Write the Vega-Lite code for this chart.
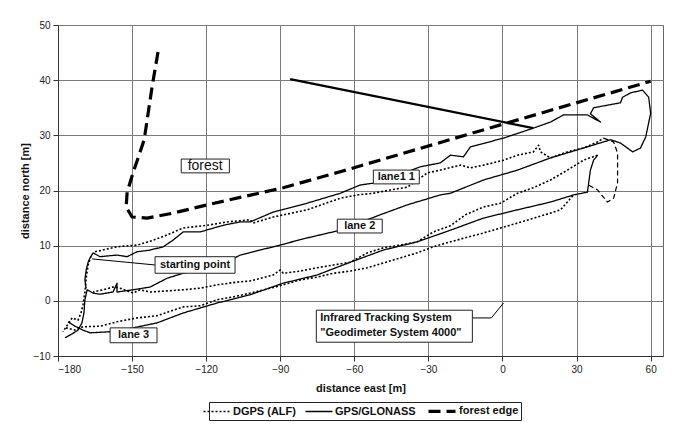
{
  "$schema": "https://vega.github.io/schema/vega-lite/v6.json",
  "description": "DGPS and GPS/GLONASS tracks on three lanes next to a forest edge",
  "width": 605,
  "height": 331,
  "autosize": "none",
  "padding": {"left": 58, "top": 25, "right": 16, "bottom": 69},
  "config": {
    "font": "Liberation Sans",
    "view": {"stroke": "#666", "strokeWidth": 1},
    "axis": {
      "gridColor": "#7a7a7a", "gridOpacity": 1, "gridWidth": 1,
      "domainColor": "#333", "tickColor": "#333", "tickSize": 5,
      "labelFont": "Liberation Sans", "labelFontSize": 10, "labelColor": "#222",
      "titleFont": "Liberation Sans", "titleFontSize": 11, "titleFontWeight": "bold", "titleColor": "#111"
    },
    "legend": {
      "orient": "none", "legendX": 151, "legendY": 377, "direction": "horizontal",
      "strokeColor": "#222", "padding": 2, "symbolType": "M-2.7,0H2.7", "symbolSize": 100,
      "symbolStrokeColor": "black", "labelFont": "Liberation Sans", "labelFontSize": 11,
      "labelFontWeight": "bold", "labelColor": "#111", "labelOffset": 10, "columnPadding": 6
    }
  },
  "datasets": {
    "tracks": [
      {"series": "forest edge", "seg": "f", "i": 1, "x": -139.5, "y": 45.1},
      {"series": "forest edge", "seg": "f", "i": 2, "x": -141.9, "y": 38.8},
      {"series": "forest edge", "seg": "f", "i": 3, "x": -145.1, "y": 29.2},
      {"series": "forest edge", "seg": "f", "i": 4, "x": -149.6, "y": 23.2},
      {"series": "forest edge", "seg": "f", "i": 5, "x": -152.0, "y": 19.7},
      {"series": "forest edge", "seg": "f", "i": 6, "x": -152.4, "y": 17.0},
      {"series": "forest edge", "seg": "f", "i": 7, "x": -150.0, "y": 15.2},
      {"series": "forest edge", "seg": "f", "i": 8, "x": -143.9, "y": 15.0},
      {"series": "forest edge", "seg": "f", "i": 9, "x": -133.4, "y": 15.9},
      {"series": "forest edge", "seg": "f", "i": 10, "x": -119.6, "y": 17.4},
      {"series": "forest edge", "seg": "f", "i": 11, "x": -88.8, "y": 20.5},
      {"series": "forest edge", "seg": "f", "i": 12, "x": -65.7, "y": 23.4},
      {"series": "forest edge", "seg": "f", "i": 13, "x": 0, "y": 32.0},
      {"series": "forest edge", "seg": "f", "i": 14, "x": 60, "y": 39.8},

      {"series": "GPS/GLONASS", "seg": "g0", "i": 1, "x": -165.8, "y": 8.7},
      {"series": "GPS/GLONASS", "seg": "g0", "i": 2, "x": -167.0, "y": 7.8},
      {"series": "GPS/GLONASS", "seg": "g0", "i": 3, "x": -167.8, "y": 7.0},
      {"series": "GPS/GLONASS", "seg": "g0", "i": 4, "x": -168.6, "y": 5.6},
      {"series": "GPS/GLONASS", "seg": "g0", "i": 5, "x": -169.1, "y": 3.8},
      {"series": "GPS/GLONASS", "seg": "g0", "i": 6, "x": -168.6, "y": 2.2},

      {"series": "GPS/GLONASS", "seg": "g1", "i": 1, "x": -165.8, "y": 8.7},
      {"series": "GPS/GLONASS", "seg": "g1", "i": 2, "x": -163.0, "y": 8.0},
      {"series": "GPS/GLONASS", "seg": "g1", "i": 3, "x": -156.1, "y": 8.3},
      {"series": "GPS/GLONASS", "seg": "g1", "i": 4, "x": -152.0, "y": 8.0},
      {"series": "GPS/GLONASS", "seg": "g1", "i": 5, "x": -148.0, "y": 8.9},
      {"series": "GPS/GLONASS", "seg": "g1", "i": 6, "x": -142.7, "y": 9.2},
      {"series": "GPS/GLONASS", "seg": "g1", "i": 7, "x": -137.4, "y": 9.8},
      {"series": "GPS/GLONASS", "seg": "g1", "i": 8, "x": -133.4, "y": 11.0},
      {"series": "GPS/GLONASS", "seg": "g1", "i": 9, "x": -129.3, "y": 12.5},
      {"series": "GPS/GLONASS", "seg": "g1", "i": 10, "x": -122.4, "y": 12.5},
      {"series": "GPS/GLONASS", "seg": "g1", "i": 11, "x": -113.1, "y": 13.7},
      {"series": "GPS/GLONASS", "seg": "g1", "i": 12, "x": -106.2, "y": 14.3},
      {"series": "GPS/GLONASS", "seg": "g1", "i": 13, "x": -102.2, "y": 14.3},
      {"series": "GPS/GLONASS", "seg": "g1", "i": 14, "x": -92.8, "y": 16.1},
      {"series": "GPS/GLONASS", "seg": "g1", "i": 15, "x": -79.1, "y": 17.7},
      {"series": "GPS/GLONASS", "seg": "g1", "i": 16, "x": -65.7, "y": 19.5},
      {"series": "GPS/GLONASS", "seg": "g1", "i": 17, "x": -57.6, "y": 21.0},
      {"series": "GPS/GLONASS", "seg": "g1", "i": 18, "x": -49.5, "y": 21.5},
      {"series": "GPS/GLONASS", "seg": "g1", "i": 19, "x": -33.3, "y": 24.3},
      {"series": "GPS/GLONASS", "seg": "g1", "i": 20, "x": -25.2, "y": 25.0},
      {"series": "GPS/GLONASS", "seg": "g1", "i": 21, "x": -21.1, "y": 26.4},
      {"series": "GPS/GLONASS", "seg": "g1", "i": 22, "x": -15.8, "y": 26.1},
      {"series": "GPS/GLONASS", "seg": "g1", "i": 23, "x": -13.0, "y": 27.9},
      {"series": "GPS/GLONASS", "seg": "g1", "i": 24, "x": 0.4, "y": 29.5},
      {"series": "GPS/GLONASS", "seg": "g1", "i": 25, "x": 12.5, "y": 31.3},
      {"series": "GPS/GLONASS", "seg": "g1", "i": 26, "x": 19.4, "y": 32.4},
      {"series": "GPS/GLONASS", "seg": "g1", "i": 27, "x": 24.7, "y": 33.7},
      {"series": "GPS/GLONASS", "seg": "g1", "i": 28, "x": 34.4, "y": 33.7},
      {"series": "GPS/GLONASS", "seg": "g1", "i": 29, "x": 39.7, "y": 32.4},
      {"series": "GPS/GLONASS", "seg": "g1", "i": 30, "x": 35.6, "y": 33.9},
      {"series": "GPS/GLONASS", "seg": "g1", "i": 31, "x": 36.9, "y": 35.0},
      {"series": "GPS/GLONASS", "seg": "g1", "i": 32, "x": 47.8, "y": 35.9},
      {"series": "GPS/GLONASS", "seg": "g1", "i": 33, "x": 48.6, "y": 36.9},
      {"series": "GPS/GLONASS", "seg": "g1", "i": 34, "x": 51.9, "y": 37.7},
      {"series": "GPS/GLONASS", "seg": "g1", "i": 35, "x": 56.7, "y": 38.2},
      {"series": "GPS/GLONASS", "seg": "g1", "i": 36, "x": 59.2, "y": 36.9},
      {"series": "GPS/GLONASS", "seg": "g1", "i": 37, "x": 60.0, "y": 34.0},
      {"series": "GPS/GLONASS", "seg": "g1", "i": 38, "x": 58.0, "y": 29.7},
      {"series": "GPS/GLONASS", "seg": "g1", "i": 39, "x": 55.9, "y": 27.7},
      {"series": "GPS/GLONASS", "seg": "g1", "i": 40, "x": 52.7, "y": 27.0},
      {"series": "GPS/GLONASS", "seg": "g1", "i": 41, "x": 47.8, "y": 28.6},
      {"series": "GPS/GLONASS", "seg": "g1", "i": 42, "x": 43.8, "y": 29.2},
      {"series": "GPS/GLONASS", "seg": "g1", "i": 43, "x": 32.8, "y": 27.7},
      {"series": "GPS/GLONASS", "seg": "g1", "i": 44, "x": 19.4, "y": 25.9},
      {"series": "GPS/GLONASS", "seg": "g1", "i": 45, "x": 6.1, "y": 23.7},
      {"series": "GPS/GLONASS", "seg": "g1", "i": 46, "x": -7.7, "y": 21.9},
      {"series": "GPS/GLONASS", "seg": "g1", "i": 47, "x": -21.1, "y": 19.5},
      {"series": "GPS/GLONASS", "seg": "g1", "i": 48, "x": -25.2, "y": 19.2},
      {"series": "GPS/GLONASS", "seg": "g1", "i": 49, "x": -38.5, "y": 17.4},
      {"series": "GPS/GLONASS", "seg": "g1", "i": 50, "x": -49.5, "y": 15.6},
      {"series": "GPS/GLONASS", "seg": "g1", "i": 51, "x": -65.7, "y": 12.8},
      {"series": "GPS/GLONASS", "seg": "g1", "i": 52, "x": -79.1, "y": 11.4},
      {"series": "GPS/GLONASS", "seg": "g1", "i": 53, "x": -92.8, "y": 9.8},
      {"series": "GPS/GLONASS", "seg": "g1", "i": 54, "x": -106.2, "y": 8.3},
      {"series": "GPS/GLONASS", "seg": "g1", "i": 55, "x": -115.6, "y": 6.1},
      {"series": "GPS/GLONASS", "seg": "g1", "i": 56, "x": -129.3, "y": 5.0},
      {"series": "GPS/GLONASS", "seg": "g1", "i": 57, "x": -135.8, "y": 4.1},
      {"series": "GPS/GLONASS", "seg": "g1", "i": 58, "x": -142.7, "y": 2.5},
      {"series": "GPS/GLONASS", "seg": "g1", "i": 59, "x": -149.6, "y": 2.0},
      {"series": "GPS/GLONASS", "seg": "g1", "i": 60, "x": -156.1, "y": 1.6},
      {"series": "GPS/GLONASS", "seg": "g1", "i": 61, "x": -156.1, "y": 3.2},
      {"series": "GPS/GLONASS", "seg": "g1", "i": 62, "x": -157.7, "y": 1.6},
      {"series": "GPS/GLONASS", "seg": "g1", "i": 63, "x": -163.0, "y": 1.2},
      {"series": "GPS/GLONASS", "seg": "g1", "i": 64, "x": -165.8, "y": 1.4},
      {"series": "GPS/GLONASS", "seg": "g1", "i": 65, "x": -168.2, "y": 2.0},
      {"series": "GPS/GLONASS", "seg": "g1", "i": 66, "x": -169.1, "y": 0.2},
      {"series": "GPS/GLONASS", "seg": "g1", "i": 67, "x": -169.5, "y": -2.2},
      {"series": "GPS/GLONASS", "seg": "g1", "i": 68, "x": -170.3, "y": -4.0},
      {"series": "GPS/GLONASS", "seg": "g1", "i": 69, "x": -171.9, "y": -5.3},
      {"series": "GPS/GLONASS", "seg": "g1", "i": 70, "x": -174.3, "y": -6.0},
      {"series": "GPS/GLONASS", "seg": "g1", "i": 71, "x": -177.2, "y": -6.7},

      {"series": "GPS/GLONASS", "seg": "g3", "i": 1, "x": -175.9, "y": -3.8},
      {"series": "GPS/GLONASS", "seg": "g3", "i": 2, "x": -173.1, "y": -4.6},
      {"series": "GPS/GLONASS", "seg": "g3", "i": 3, "x": -169.9, "y": -5.3},
      {"series": "GPS/GLONASS", "seg": "g3", "i": 4, "x": -167.0, "y": -5.8},
      {"series": "GPS/GLONASS", "seg": "g3", "i": 5, "x": -158.9, "y": -5.6},
      {"series": "GPS/GLONASS", "seg": "g3", "i": 6, "x": -149.6, "y": -4.9},
      {"series": "GPS/GLONASS", "seg": "g3", "i": 7, "x": -139.9, "y": -4.0},
      {"series": "GPS/GLONASS", "seg": "g3", "i": 8, "x": -129.3, "y": -2.2},
      {"series": "GPS/GLONASS", "seg": "g3", "i": 9, "x": -115.6, "y": -0.4},
      {"series": "GPS/GLONASS", "seg": "g3", "i": 10, "x": -102.2, "y": 1.1},
      {"series": "GPS/GLONASS", "seg": "g3", "i": 11, "x": -88.8, "y": 3.2},
      {"series": "GPS/GLONASS", "seg": "g3", "i": 12, "x": -75.0, "y": 4.7},
      {"series": "GPS/GLONASS", "seg": "g3", "i": 13, "x": -61.6, "y": 7.0},
      {"series": "GPS/GLONASS", "seg": "g3", "i": 14, "x": -48.3, "y": 9.2},
      {"series": "GPS/GLONASS", "seg": "g3", "i": 15, "x": -34.5, "y": 10.7},
      {"series": "GPS/GLONASS", "seg": "g3", "i": 16, "x": -21.1, "y": 12.8},
      {"series": "GPS/GLONASS", "seg": "g3", "i": 17, "x": -7.7, "y": 15.0},
      {"series": "GPS/GLONASS", "seg": "g3", "i": 18, "x": 6.1, "y": 16.5},
      {"series": "GPS/GLONASS", "seg": "g3", "i": 19, "x": 19.4, "y": 17.9},
      {"series": "GPS/GLONASS", "seg": "g3", "i": 20, "x": 28.8, "y": 19.2},
      {"series": "GPS/GLONASS", "seg": "g3", "i": 21, "x": 34.4, "y": 19.7},
      {"series": "GPS/GLONASS", "seg": "g3", "i": 22, "x": 34.8, "y": 21.0},
      {"series": "GPS/GLONASS", "seg": "g3", "i": 23, "x": 35.6, "y": 23.7},
      {"series": "GPS/GLONASS", "seg": "g3", "i": 24, "x": 36.9, "y": 25.5},
      {"series": "GPS/GLONASS", "seg": "g3", "i": 25, "x": 38.5, "y": 26.4},

      {"series": "DGPS (ALF)", "seg": "d1", "i": 1, "x": -165.0, "y": 8.9},
      {"series": "DGPS (ALF)", "seg": "d1", "i": 2, "x": -156.1, "y": 9.8},
      {"series": "DGPS (ALF)", "seg": "d1", "i": 3, "x": -148.0, "y": 10.1},
      {"series": "DGPS (ALF)", "seg": "d1", "i": 4, "x": -142.7, "y": 10.8},
      {"series": "DGPS (ALF)", "seg": "d1", "i": 5, "x": -136.6, "y": 11.8},
      {"series": "DGPS (ALF)", "seg": "d1", "i": 6, "x": -129.3, "y": 13.2},
      {"series": "DGPS (ALF)", "seg": "d1", "i": 7, "x": -119.6, "y": 13.7},
      {"series": "DGPS (ALF)", "seg": "d1", "i": 8, "x": -111.5, "y": 14.3},
      {"series": "DGPS (ALF)", "seg": "d1", "i": 9, "x": -102.2, "y": 14.7},
      {"series": "DGPS (ALF)", "seg": "d1", "i": 10, "x": -101.0, "y": 14.1},
      {"series": "DGPS (ALF)", "seg": "d1", "i": 11, "x": -92.8, "y": 15.2},
      {"series": "DGPS (ALF)", "seg": "d1", "i": 12, "x": -79.1, "y": 16.5},
      {"series": "DGPS (ALF)", "seg": "d1", "i": 13, "x": -65.7, "y": 18.6},
      {"series": "DGPS (ALF)", "seg": "d1", "i": 14, "x": -58.8, "y": 19.2},
      {"series": "DGPS (ALF)", "seg": "d1", "i": 15, "x": -52.3, "y": 19.5},
      {"series": "DGPS (ALF)", "seg": "d1", "i": 16, "x": -45.4, "y": 20.1},
      {"series": "DGPS (ALF)", "seg": "d1", "i": 17, "x": -38.5, "y": 20.6},
      {"series": "DGPS (ALF)", "seg": "d1", "i": 18, "x": -30.4, "y": 23.2},
      {"series": "DGPS (ALF)", "seg": "d1", "i": 19, "x": -25.2, "y": 23.7},
      {"series": "DGPS (ALF)", "seg": "d1", "i": 20, "x": -17.0, "y": 24.6},
      {"series": "DGPS (ALF)", "seg": "d1", "i": 21, "x": -13.0, "y": 24.1},
      {"series": "DGPS (ALF)", "seg": "d1", "i": 22, "x": -7.7, "y": 24.6},
      {"series": "DGPS (ALF)", "seg": "d1", "i": 23, "x": 0.4, "y": 25.5},
      {"series": "DGPS (ALF)", "seg": "d1", "i": 24, "x": 6.1, "y": 26.4},
      {"series": "DGPS (ALF)", "seg": "d1", "i": 25, "x": 12.5, "y": 27.0},
      {"series": "DGPS (ALF)", "seg": "d1", "i": 26, "x": 14.6, "y": 28.2},
      {"series": "DGPS (ALF)", "seg": "d1", "i": 27, "x": 15.4, "y": 27.0},
      {"series": "DGPS (ALF)", "seg": "d1", "i": 28, "x": 19.4, "y": 25.9},
      {"series": "DGPS (ALF)", "seg": "d1", "i": 29, "x": 26.3, "y": 27.0},
      {"series": "DGPS (ALF)", "seg": "d1", "i": 30, "x": 32.8, "y": 27.7},
      {"series": "DGPS (ALF)", "seg": "d1", "i": 31, "x": 38.5, "y": 28.8},
      {"series": "DGPS (ALF)", "seg": "d1", "i": 32, "x": 40.9, "y": 29.5},

      {"series": "DGPS (ALF)", "seg": "d2", "i": 1, "x": 38.5, "y": 26.4},
      {"series": "DGPS (ALF)", "seg": "d2", "i": 2, "x": 32.8, "y": 25.5},
      {"series": "DGPS (ALF)", "seg": "d2", "i": 3, "x": 26.3, "y": 23.7},
      {"series": "DGPS (ALF)", "seg": "d2", "i": 4, "x": 19.4, "y": 21.9},
      {"series": "DGPS (ALF)", "seg": "d2", "i": 5, "x": 12.5, "y": 20.5},
      {"series": "DGPS (ALF)", "seg": "d2", "i": 6, "x": 6.1, "y": 19.5},
      {"series": "DGPS (ALF)", "seg": "d2", "i": 7, "x": -0.8, "y": 17.7},
      {"series": "DGPS (ALF)", "seg": "d2", "i": 8, "x": -7.7, "y": 17.0},
      {"series": "DGPS (ALF)", "seg": "d2", "i": 9, "x": -15.0, "y": 15.6},
      {"series": "DGPS (ALF)", "seg": "d2", "i": 10, "x": -21.1, "y": 13.6},
      {"series": "DGPS (ALF)", "seg": "d2", "i": 11, "x": -28.0, "y": 12.5},
      {"series": "DGPS (ALF)", "seg": "d2", "i": 12, "x": -34.5, "y": 10.7},
      {"series": "DGPS (ALF)", "seg": "d2", "i": 13, "x": -41.4, "y": 10.1},
      {"series": "DGPS (ALF)", "seg": "d2", "i": 14, "x": -48.3, "y": 9.6},
      {"series": "DGPS (ALF)", "seg": "d2", "i": 15, "x": -54.7, "y": 8.7},
      {"series": "DGPS (ALF)", "seg": "d2", "i": 16, "x": -61.6, "y": 7.0},
      {"series": "DGPS (ALF)", "seg": "d2", "i": 17, "x": -68.5, "y": 6.5},
      {"series": "DGPS (ALF)", "seg": "d2", "i": 18, "x": -75.0, "y": 6.0},
      {"series": "DGPS (ALF)", "seg": "d2", "i": 19, "x": -81.9, "y": 5.4},
      {"series": "DGPS (ALF)", "seg": "d2", "i": 20, "x": -88.8, "y": 5.0},
      {"series": "DGPS (ALF)", "seg": "d2", "i": 21, "x": -90.0, "y": 5.6},
      {"series": "DGPS (ALF)", "seg": "d2", "i": 22, "x": -92.8, "y": 4.7},
      {"series": "DGPS (ALF)", "seg": "d2", "i": 23, "x": -102.2, "y": 3.6},
      {"series": "DGPS (ALF)", "seg": "d2", "i": 24, "x": -107.4, "y": 3.4},
      {"series": "DGPS (ALF)", "seg": "d2", "i": 25, "x": -115.6, "y": 2.9},
      {"series": "DGPS (ALF)", "seg": "d2", "i": 26, "x": -122.4, "y": 2.3},
      {"series": "DGPS (ALF)", "seg": "d2", "i": 27, "x": -129.3, "y": 2.0},
      {"series": "DGPS (ALF)", "seg": "d2", "i": 28, "x": -135.8, "y": 1.8},
      {"series": "DGPS (ALF)", "seg": "d2", "i": 29, "x": -142.7, "y": 1.6},
      {"series": "DGPS (ALF)", "seg": "d2", "i": 30, "x": -146.8, "y": 2.0},
      {"series": "DGPS (ALF)", "seg": "d2", "i": 31, "x": -149.6, "y": 1.4},
      {"series": "DGPS (ALF)", "seg": "d2", "i": 32, "x": -154.9, "y": 2.3},
      {"series": "DGPS (ALF)", "seg": "d2", "i": 33, "x": -157.7, "y": 2.5},
      {"series": "DGPS (ALF)", "seg": "d2", "i": 34, "x": -161.8, "y": 2.0},
      {"series": "DGPS (ALF)", "seg": "d2", "i": 35, "x": -165.8, "y": 1.6},

      {"series": "DGPS (ALF)", "seg": "d3", "i": 1, "x": -166.6, "y": 8.1},
      {"series": "DGPS (ALF)", "seg": "d3", "i": 2, "x": -167.8, "y": 6.5},
      {"series": "DGPS (ALF)", "seg": "d3", "i": 3, "x": -168.6, "y": 4.1},
      {"series": "DGPS (ALF)", "seg": "d3", "i": 4, "x": -169.1, "y": 1.6},
      {"series": "DGPS (ALF)", "seg": "d3", "i": 5, "x": -169.9, "y": -0.8},
      {"series": "DGPS (ALF)", "seg": "d3", "i": 6, "x": -170.7, "y": -2.2},
      {"series": "DGPS (ALF)", "seg": "d3", "i": 7, "x": -171.9, "y": -3.5},
      {"series": "DGPS (ALF)", "seg": "d3", "i": 8, "x": -174.3, "y": -3.1},
      {"series": "DGPS (ALF)", "seg": "d3", "i": 9, "x": -175.9, "y": -4.2},
      {"series": "DGPS (ALF)", "seg": "d3", "i": 10, "x": -178.0, "y": -5.6},

      {"series": "DGPS (ALF)", "seg": "d4", "i": 1, "x": -176.8, "y": -4.9},
      {"series": "DGPS (ALF)", "seg": "d4", "i": 2, "x": -173.1, "y": -5.3},
      {"series": "DGPS (ALF)", "seg": "d4", "i": 3, "x": -169.9, "y": -4.7},
      {"series": "DGPS (ALF)", "seg": "d4", "i": 4, "x": -163.0, "y": -4.6},
      {"series": "DGPS (ALF)", "seg": "d4", "i": 5, "x": -156.1, "y": -3.8},
      {"series": "DGPS (ALF)", "seg": "d4", "i": 6, "x": -148.0, "y": -3.1},
      {"series": "DGPS (ALF)", "seg": "d4", "i": 7, "x": -139.9, "y": -2.7},
      {"series": "DGPS (ALF)", "seg": "d4", "i": 8, "x": -129.3, "y": -1.1},
      {"series": "DGPS (ALF)", "seg": "d4", "i": 9, "x": -122.4, "y": -0.9},
      {"series": "DGPS (ALF)", "seg": "d4", "i": 10, "x": -115.6, "y": 0.2},
      {"series": "DGPS (ALF)", "seg": "d4", "i": 11, "x": -109.1, "y": 0.7},
      {"series": "DGPS (ALF)", "seg": "d4", "i": 12, "x": -102.2, "y": 1.4},
      {"series": "DGPS (ALF)", "seg": "d4", "i": 13, "x": -92.0, "y": 2.5},
      {"series": "DGPS (ALF)", "seg": "d4", "i": 14, "x": -81.9, "y": 3.8},
      {"series": "DGPS (ALF)", "seg": "d4", "i": 15, "x": -75.0, "y": 4.3},
      {"series": "DGPS (ALF)", "seg": "d4", "i": 16, "x": -68.5, "y": 5.0},
      {"series": "DGPS (ALF)", "seg": "d4", "i": 17, "x": -61.6, "y": 5.4},
      {"series": "DGPS (ALF)", "seg": "d4", "i": 18, "x": -54.7, "y": 6.0},
      {"series": "DGPS (ALF)", "seg": "d4", "i": 19, "x": -44.2, "y": 7.4},
      {"series": "DGPS (ALF)", "seg": "d4", "i": 20, "x": -34.5, "y": 8.7},
      {"series": "DGPS (ALF)", "seg": "d4", "i": 21, "x": -28.0, "y": 9.8},
      {"series": "DGPS (ALF)", "seg": "d4", "i": 22, "x": -21.1, "y": 10.7},
      {"series": "DGPS (ALF)", "seg": "d4", "i": 23, "x": -7.7, "y": 12.3},
      {"series": "DGPS (ALF)", "seg": "d4", "i": 24, "x": 6.1, "y": 14.1},
      {"series": "DGPS (ALF)", "seg": "d4", "i": 25, "x": 19.4, "y": 15.9},
      {"series": "DGPS (ALF)", "seg": "d4", "i": 26, "x": 23.5, "y": 16.5},
      {"series": "DGPS (ALF)", "seg": "d4", "i": 27, "x": 28.8, "y": 19.2}
    ],
    "jump": [
      {"i": 1, "x": -86.0, "y": 40.2},
      {"i": 2, "x": 12.5, "y": 31.3}
    ],
    "turn": [
      {"i": 1, "x": 40.9, "y": 29.5},
      {"i": 2, "x": 45.0, "y": 28.8},
      {"i": 3, "x": 46.6, "y": 26.8},
      {"i": 4, "x": 46.6, "y": 21.4},
      {"i": 5, "x": 45.0, "y": 18.6},
      {"i": 6, "x": 42.5, "y": 17.9},
      {"i": 7, "x": 38.5, "y": 20.1},
      {"i": 8, "x": 34.8, "y": 21.0}
    ],
    "pointers": [
      {"seg": "start", "i": 1, "x": -166.2, "y": 7.6},
      {"seg": "start", "i": 2, "x": -140.7, "y": 6.5},
      {"seg": "ir", "i": 1, "x": -12.2, "y": -3.1},
      {"seg": "ir", "i": 2, "x": -4.5, "y": -3.1},
      {"seg": "ir", "i": 3, "x": 0.4, "y": -0.4}
    ],
    "boxes": [
      {"name": "forest", "x": -130.1, "x2": -110.6, "y": 25.7, "y2": 23.2},
      {"name": "lane1 1", "x": -52.3, "x2": -33.7, "y": 23.7, "y2": 21.2},
      {"name": "lane 2", "x": -66.9, "x2": -48.7, "y": 14.8, "y2": 12.3},
      {"name": "starting point", "x": -140.7, "x2": -108.3, "y": 8.0, "y2": 5.0},
      {"name": "lane 3", "x": -158.9, "x2": -139.9, "y": -4.9, "y2": -7.6},
      {"name": "infrared", "x": -75.4, "x2": -12.2, "y": -1.7, "y2": -7.5}
    ],
    "labels": [
      {"label": "lane1 1", "x": -43.0, "y": 22.45},
      {"label": "lane 2", "x": -57.8, "y": 13.55},
      {"label": "starting point", "x": -124.5, "y": 6.5},
      {"label": "lane 3", "x": -149.4, "y": -6.25}
    ],
    "notes": [
      {"label": "Infrared Tracking System", "x": -73.8, "y": -3.2},
      {"label": "\"Geodimeter System 4000\"", "x": -73.8, "y": -5.8}
    ]
  },
  "layer": [
    {
      "data": {"name": "tracks"},
      "mark": {"type": "line", "color": "black", "strokeCap": "butt", "strokeJoin": "round"},
      "encoding": {
        "x": {
          "field": "x", "type": "quantitative",
          "scale": {"domain": [-180, 65], "nice": false, "zero": false},
          "axis": {"values": [-180, -150, -120, -90, -60, -30, 0, 30, 60], "title": "distance east [m]", "titlePadding": 8, "labelPadding": 3}
        },
        "y": {
          "field": "y", "type": "quantitative",
          "scale": {"domain": [-10, 50], "nice": false, "zero": false},
          "axis": {"values": [-10, 0, 10, 20, 30, 40, 50], "title": "distance north [m]", "titlePadding": 3, "labelPadding": 3}
        },
        "detail": {"field": "seg"},
        "order": {"field": "i", "type": "quantitative"},
        "strokeDash": {
          "field": "series", "type": "ordinal",
          "scale": {"domain": ["DGPS (ALF)", "GPS/GLONASS", "forest edge"], "range": [[2, 2], [1, 0], [12, 6]]},
          "legend": {"title": null}
        },
        "strokeWidth": {
          "field": "series", "type": "ordinal",
          "scale": {"type": "ordinal", "domain": ["DGPS (ALF)", "GPS/GLONASS", "forest edge"], "range": [1.6, 1.3, 3.2]},
          "legend": {"title": null}
        }
      }
    },
    {
      "data": {"name": "jump"},
      "mark": {"type": "line", "color": "black", "strokeWidth": 2.2},
      "encoding": {
        "x": {"field": "x", "type": "quantitative"},
        "y": {"field": "y", "type": "quantitative"},
        "order": {"field": "i", "type": "quantitative"}
      }
    },
    {
      "data": {"name": "turn"},
      "mark": {"type": "line", "color": "black", "strokeWidth": 1.2, "strokeDash": [5, 3]},
      "encoding": {
        "x": {"field": "x", "type": "quantitative"},
        "y": {"field": "y", "type": "quantitative"},
        "order": {"field": "i", "type": "quantitative"}
      }
    },
    {
      "data": {"name": "pointers"},
      "mark": {"type": "line", "color": "black", "strokeWidth": 1},
      "encoding": {
        "x": {"field": "x", "type": "quantitative"},
        "y": {"field": "y", "type": "quantitative"},
        "detail": {"field": "seg"},
        "order": {"field": "i", "type": "quantitative"}
      }
    },
    {
      "data": {"name": "boxes"},
      "mark": {"type": "rect", "fill": "white", "stroke": "#222", "strokeWidth": 1},
      "encoding": {
        "x": {"field": "x", "type": "quantitative"},
        "x2": {"field": "x2"},
        "y": {"field": "y", "type": "quantitative"},
        "y2": {"field": "y2"}
      }
    },
    {
      "data": {"name": "labels"},
      "mark": {"type": "text", "fontSize": 11, "fontWeight": "bold", "color": "#111", "align": "center", "baseline": "middle"},
      "encoding": {
        "x": {"field": "x", "type": "quantitative"},
        "y": {"field": "y", "type": "quantitative"},
        "text": {"field": "label"}
      }
    },
    {
      "data": {"values": [{"label": "forest", "x": -120.4, "y": 24.45}]},
      "mark": {"type": "text", "fontSize": 14, "color": "#111", "align": "center", "baseline": "middle"},
      "encoding": {
        "x": {"field": "x", "type": "quantitative"},
        "y": {"field": "y", "type": "quantitative"},
        "text": {"field": "label"}
      }
    },
    {
      "data": {"name": "notes"},
      "mark": {"type": "text", "fontSize": 11, "fontWeight": "bold", "color": "#111", "align": "left", "baseline": "middle"},
      "encoding": {
        "x": {"field": "x", "type": "quantitative"},
        "y": {"field": "y", "type": "quantitative"},
        "text": {"field": "label"}
      }
    }
  ]
}
